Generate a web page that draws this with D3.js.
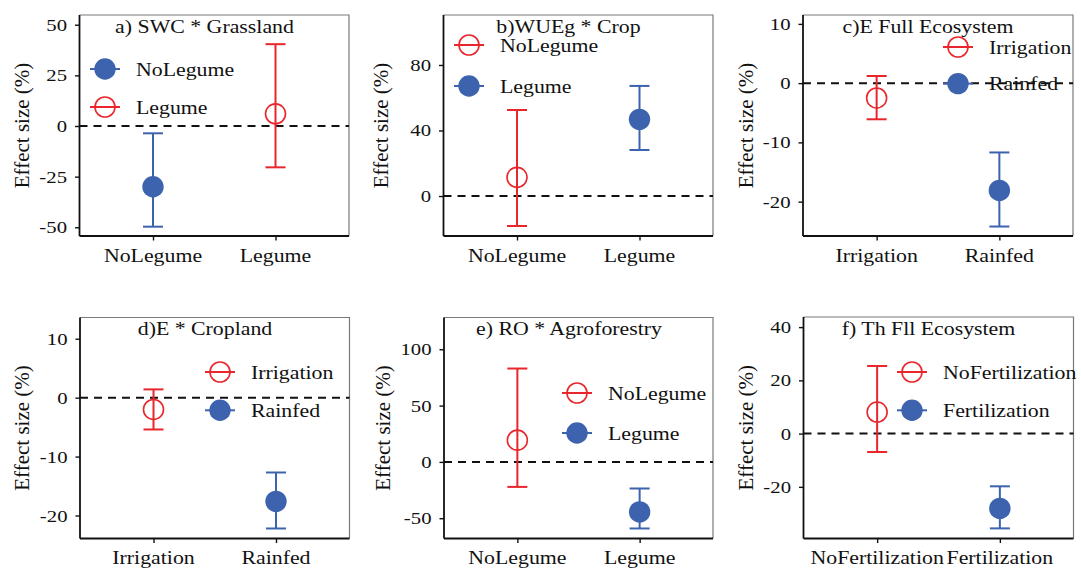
<!DOCTYPE html>
<html>
<head>
<meta charset="utf-8">
<script src="https://cdn.jsdelivr.net/npm/d3@7"></script>
<style>
  body { margin: 0; background: #fff; }
  svg { display: block; }
</style>
</head>
<body>
<svg id="chart" width="1081" height="569"></svg>
<script>
// ---- data -------------------------------------------------------------
const panelTitles = [
  "a) SWC * Grassland",
  "b)WUEg * Crop",
  "c)E Full Ecosystem",
  "d)E * Cropland",
  "e) RO * Agroforestry",
  "f) Th Fll Ecosystem"
];
const categories = [
  ["NoLegume", "Legume"],
  ["NoLegume", "Legume"],
  ["Irrigation", "Rainfed"],
  ["Irrigation", "Rainfed"],
  ["NoLegume", "Legume"],
  ["NoFertilization", "Fertilization"]
];
const means   = [[-30, 6],       [11.4, 46.8],  [-2.5, -18.1], [-2.0, -17.6], [19.3, -44.4],  [8.1, -28.1]];
const lowerCI = [[-49.7, -20.4], [-18.3, 28.1], [-6.1, -24.2], [-5.4, -22.2], [-22.2, -59.1], [-6.9, -35.6]];
const upperCI = [[-3.6, 40.4],   [52.5, 67.2],  [1.2, -11.7],  [1.4, -12.7],  [82.9, -23.6],  [25.4, -19.8]];
// true = filled blue marker, false = open red marker
const markerFilled = [[true, false], [false, true], [false, true], [false, true], [false, true], [false, true]];
const yTicks = [
  [-50, -25, 0, 25, 50],
  [0, 40, 80],
  [-20, -10, 0, 10],
  [-20, -10, 0, 10],
  [-50, 0, 50, 100],
  [-20, 0, 20, 40]
];
const yDomains = [[-54.3, 54.8], [-24.4, 110.5], [-25.8, 11.5], [-23.9, 13.6], [-68, 128.2], [-39.4, 43.8]];

// ---- layout -----------------------------------------------------------
const frames = [
  { l: 79.5,  r: 349,    t: 15,    b: 236 },
  { l: 443.5, r: 713,    t: 15,    b: 236 },
  { l: 803,   r: 1073,   t: 15,    b: 236 },
  { l: 80,    r: 349.5,  t: 317.5, b: 538.5 },
  { l: 444,   r: 713,    t: 317.5, b: 538.5 },
  { l: 803.5, r: 1073.5, t: 317,   b: 538.5 }
];
const legendPos = [
  { x: 105, y: 69,  dy: 38 },
  { x: 469, y: 45,  dy: 41 },
  { x: 958, y: 47,  dy: 36.6 },
  { x: 220, y: 372, dy: 38.3 },
  { x: 577, y: 393, dy: 40 },
  { x: 912, y: 372, dy: 38.3 }
];
const yLabelX = [28.5, 388, 753, 29, 390, 753];

const RED = "#e8262b";
const BLUE = "#3d63ae";
const FONT = "'Liberation Serif', 'Times New Roman', serif";
const TICK_FS = 17, TICK_STRETCH = 1.22;   // y tick numbers
const TEXT_FS = 19.5, TEXT_STRETCH = 1.12; // category, legend and title text

const svg = d3.select("#chart");

function label(g, x, y, txt, anchor, fs, stretch) {
  return g.append("text")
    .attr("transform", `translate(${x},${y}) scale(${stretch},1)`)
    .attr("text-anchor", anchor)
    .attr("font-family", FONT)
    .attr("font-size", fs)
    .attr("fill", "#111")
    .text(txt);
}

panelTitles.forEach((title, i) => {
  const f = frames[i];
  const g = svg.append("g");

  const x = d3.scalePoint().domain(categories[i]).range([f.l, f.r]).padding(0.6);
  const y = d3.scaleLinear().domain(yDomains[i]).range([f.b, f.t]);

  // top / right border
  g.append("path")
    .attr("d", `M${f.l},${f.t}H${f.r}V${f.b}`)
    .attr("fill", "none").attr("stroke", "#7a7a7a").attr("stroke-width", 1.2);

  // zero reference line
  g.append("line")
    .attr("x1", f.l).attr("x2", f.r)
    .attr("y1", y(0)).attr("y2", y(0))
    .attr("stroke", "#111").attr("stroke-width", 2)
    .attr("stroke-dasharray", "8,6");

  // y axis
  const yAxis = g.append("g").attr("transform", `translate(${f.l},0)`)
    .call(d3.axisLeft(y).tickValues(yTicks[i]).tickSize(4.5).tickPadding(8).tickFormat(d3.format("d")));
  yAxis.select(".domain").attr("d", `M0,${f.t}V${f.b}`).attr("stroke", "#111").attr("stroke-width", 1.8);
  yAxis.selectAll(".tick line").attr("stroke", "#111").attr("stroke-width", 1.4);
  yAxis.selectAll(".tick text").remove();
  yTicks[i].forEach(v => {
    label(g, f.l - 12.5, y(v) + 6, String(v), "end", TICK_FS, TICK_STRETCH);
  });

  // x axis
  const xAxis = g.append("g").attr("transform", `translate(0,${f.b})`)
    .call(d3.axisBottom(x).tickSize(4.5).tickPadding(8));
  xAxis.select(".domain").attr("d", `M${f.l},0H${f.r}`).attr("stroke", "#111").attr("stroke-width", 1.8);
  xAxis.selectAll(".tick line").attr("stroke", "#111").attr("stroke-width", 1.4);
  xAxis.selectAll(".tick text").remove();
  categories[i].forEach(c => {
    label(g, x(c), f.b + 25.5, c, "middle", TEXT_FS, TEXT_STRETCH);
  });

  // y title
  g.append("text")
    .attr("transform", `translate(${yLabelX[i]},${(f.t + f.b) / 2}) rotate(-90)`)
    .attr("text-anchor", "middle")
    .attr("font-family", FONT)
    .attr("font-size", 21)
    .attr("fill", "#111")
    .text("Effect size (%)");

  // panel title
  label(g, f.l + 125, f.t + 17.5, title, "middle", TEXT_FS, TEXT_STRETCH);

  // legend
  const lp = legendPos[i];
  categories[i].forEach((c, k) => {
    const col = markerFilled[i][k] ? BLUE : RED;
    const ly = lp.y + k * lp.dy;
    g.append("line")
      .attr("x1", lp.x - 15).attr("x2", lp.x + 15)
      .attr("y1", ly).attr("y2", ly)
      .attr("stroke", col).attr("stroke-width", 2);
    g.append("circle")
      .attr("cx", lp.x).attr("cy", ly)
      .attr("r", markerFilled[i][k] ? 10.7 : 10)
      .attr("fill", markerFilled[i][k] ? col : "none")
      .attr("stroke", col).attr("stroke-width", markerFilled[i][k] ? 0 : 1.6);
    label(g, lp.x + 31, ly + 6.5, c, "start", TEXT_FS, TEXT_STRETCH);
  });

  // error bars and means
  categories[i].forEach((c, k) => {
    const col = markerFilled[i][k] ? BLUE : RED;
    const cx = x(c);
    const eb = g.append("g").attr("stroke", col).attr("stroke-width", 2).attr("fill", "none");
    eb.append("line").attr("x1", cx).attr("x2", cx)
      .attr("y1", y(lowerCI[i][k])).attr("y2", y(upperCI[i][k]));
    [lowerCI[i][k], upperCI[i][k]].forEach(v => {
      eb.append("line").attr("x1", cx - 10).attr("x2", cx + 10)
        .attr("y1", y(v)).attr("y2", y(v));
    });
    g.append("circle")
      .attr("cx", cx).attr("cy", y(means[i][k]))
      .attr("r", markerFilled[i][k] ? 10.7 : 10)
      .attr("fill", markerFilled[i][k] ? col : "none")
      .attr("stroke", col).attr("stroke-width", markerFilled[i][k] ? 0 : 1.6);
  });
});
</script>
</body>
</html>
